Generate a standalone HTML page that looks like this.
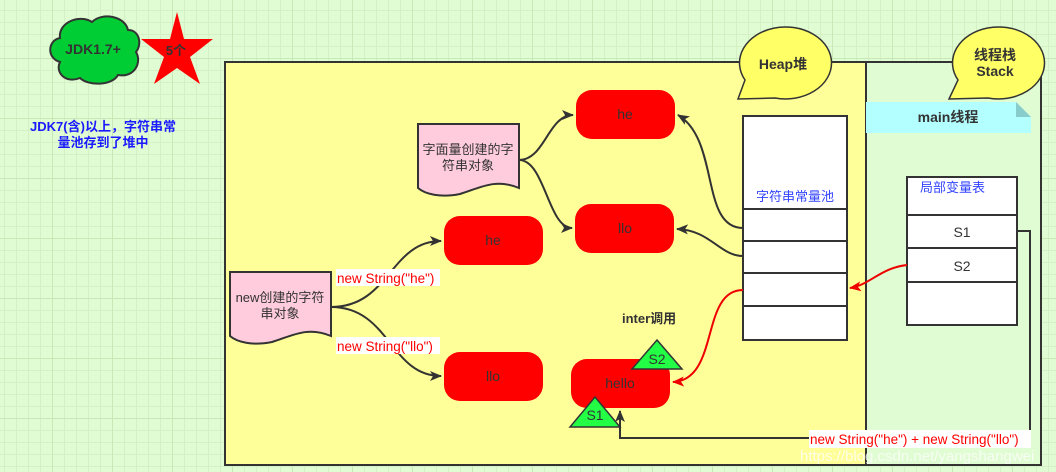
<!DOCTYPE html>
<html><head><meta charset="utf-8"><style>
html,body{margin:0;padding:0}
body{width:1056px;height:472px;overflow:hidden;background-color:#e0fcd2;
background-image:linear-gradient(#c8e8b8 1px,transparent 1px),linear-gradient(90deg,#c8e8b8 1px,transparent 1px),linear-gradient(#d4f0c4 1px,transparent 1px),linear-gradient(90deg,#d4f0c4 1px,transparent 1px);
background-size:60px 60px,60px 60px,12px 12px,12px 12px;background-position:-8px -2px;}
svg{position:absolute;left:0;top:0;font-family:"Liberation Sans","Noto Sans CJK SC",sans-serif}
</style></head><body>
<svg width="1056" height="472" viewBox="0 0 1056 472">
<defs>
<marker id="ak" markerWidth="12" markerHeight="10" refX="11" refY="5" orient="auto" markerUnits="userSpaceOnUse"><path d="M0,0 L12,5 L0,10 L3,5z" fill="#333"/></marker>
<marker id="ar" markerWidth="12" markerHeight="10" refX="11" refY="5" orient="auto" markerUnits="userSpaceOnUse"><path d="M0,0 L12,5 L0,10 L3,5z" fill="#e00"/></marker>
</defs>
<path d="M60,38 C58,22 80,14 92,22 C102,12 125,16 128,30 C140,30 142,45 136,52 C142,62 135,78 118,75 C112,86 88,86 80,78 C65,84 55,72 60,62 C46,58 48,40 60,38z" fill="#00cc33" stroke="#333" stroke-width="2"/>
<text x="93" y="54" font-size="14" font-weight="bold" fill="#333" text-anchor="middle">JDK1.7+</text>
<polygon points="177,12 184,39 213,39 190,57 200,84 177,68 154,84 164,57 141,39 170,39" fill="#f00"/>
<text x="176" y="55" font-size="13" font-weight="bold" fill="#333" text-anchor="middle">5个</text>
<text x="103" y="131" font-size="13" font-weight="bold" fill="#1a1aff" text-anchor="middle">JDK7(含)以上，字符串常</text>
<text x="103" y="147" font-size="13" font-weight="bold" fill="#1a1aff" text-anchor="middle">量池存到了堆中</text>
<rect x="225" y="62" width="641" height="403" fill="#ffff99" stroke="#333" stroke-width="2"/>
<rect x="866" y="62" width="175" height="403" fill="#e0fcd2" stroke="#333" stroke-width="2"/>
<path d="M745,80 A46,36 0 1 1 775,98 L738,99z" fill="#ffff66" stroke="#333" stroke-width="1.5"/>
<text x="783" y="69" font-size="14" font-weight="bold" fill="#333" text-anchor="middle">Heap堆</text>
<path d="M958,80 A46,36 0 1 1 988,98 L949,99z" fill="#ffff66" stroke="#333" stroke-width="1.5"/>
<text x="995" y="60" font-size="14" font-weight="bold" fill="#333" text-anchor="middle">线程栈</text>
<text x="995" y="76" font-size="14" font-weight="bold" fill="#333" text-anchor="middle">Stack</text>
<path d="M866,102 L1016,102 L1031,117 L1031,133 L866,133z" fill="#b3ffff"/>
<path d="M1016,102 L1031,117 L1016,117z" fill="#88cccc"/>
<text x="948" y="122" font-size="14" font-weight="bold" fill="#333" text-anchor="middle">main线程</text>
<rect x="743" y="116" width="104" height="224" fill="#fff" stroke="#333" stroke-width="2"/>
<path d="M743,209H847M743,241H847M743,273H847M743,306H847" stroke="#333" stroke-width="2"/>
<text x="795" y="201" font-size="13" fill="#3344ff" text-anchor="middle">字符串常量池</text>
<rect x="907" y="177" width="110" height="148" fill="#fff" stroke="#333" stroke-width="2"/>
<path d="M907,215H1017M907,248H1017M907,282H1017" stroke="#333" stroke-width="2"/>
<text x="920" y="192" font-size="13" fill="#3344ff">局部变量表</text>
<text x="962" y="237" font-size="14" fill="#333" text-anchor="middle">S1</text>
<text x="962" y="271" font-size="14" fill="#333" text-anchor="middle">S2</text>
<path d="M418,124 H519 V188 C495,178 480,188 460,194 C440,198 425,194 418,188z" fill="#ffccdd" stroke="#333" stroke-width="2"/>
<text x="468" y="154" font-size="13" fill="#333" text-anchor="middle">字面量创建的字</text>
<text x="468" y="170" font-size="13" fill="#333" text-anchor="middle">符串对象</text>
<path d="M230,272 H331 V336 C307,326 292,336 272,342 C252,346 237,342 230,336z" fill="#ffccdd" stroke="#333" stroke-width="2"/>
<text x="280" y="302" font-size="13" fill="#333" text-anchor="middle">new创建的字符</text>
<text x="280" y="318" font-size="13" fill="#333" text-anchor="middle">串对象</text>
<g fill="#f00">
<rect x="576" y="90" width="99" height="49" rx="16"/>
<rect x="575" y="204" width="99" height="49" rx="16"/>
<rect x="444" y="216" width="99" height="49" rx="16"/>
<rect x="444" y="352" width="99" height="49" rx="16"/>
<rect x="571" y="359" width="99" height="49" rx="16"/>
</g>
<g font-size="14" fill="#333" text-anchor="middle">
<text x="625" y="119">he</text>
<text x="625" y="233">llo</text>
<text x="493" y="245">he</text>
<text x="493" y="381">llo</text>
<text x="620" y="388">hello</text>
</g>
<g fill="none" stroke="#333" stroke-width="2">
<path d="M519,160 C545,160 548,115 573,115" marker-end="url(#ak)"/>
<path d="M519,160 C545,160 548,228 572,228" marker-end="url(#ak)"/>
<path d="M331,307 C390,307 390,241 441,241" marker-end="url(#ak)"/>
<path d="M331,307 C390,307 390,376 441,376" marker-end="url(#ak)"/>
<path d="M743,228 C700,228 720,140 678,115" marker-end="url(#ak)"/>
<path d="M743,256 C720,256 710,230 677,229" marker-end="url(#ak)"/>
<path d="M1017,231 H1030 V438 H620 V411" marker-end="url(#ak)"/>
</g>
<g fill="none" stroke="#e00" stroke-width="2">
<path d="M743,290 C700,290 720,380 673,382" marker-end="url(#ar)"/>
<path d="M907,265 C880,268 870,285 850,288" marker-end="url(#ar)"/>
</g>
<rect x="336" y="269" width="104" height="17" fill="#fff"/>
<text x="337" y="283" font-size="13.5" fill="#f00">new String("he")</text>
<rect x="336" y="337" width="104" height="17" fill="#fff"/>
<text x="337" y="351" font-size="13.5" fill="#f00">new String("llo")</text>
<rect x="809" y="430" width="222" height="18" fill="#fff"/>
<text x="810" y="444" font-size="13.5" fill="#f00">new String("he") + new String("llo")</text>
<text x="622" y="323" font-size="13" font-weight="bold" fill="#333">inter调用</text>
<polygon points="657,340 682,369 632,369" fill="#22ff44" stroke="#333" stroke-width="1.5"/>
<text x="657" y="364" font-size="14" fill="#333" text-anchor="middle">S2</text>
<polygon points="595,397 620,427 570,427" fill="#22ff44" stroke="#333" stroke-width="1.5"/>
<text x="595" y="420" font-size="14" fill="#333" text-anchor="middle">S1</text>
<text x="800" y="461" font-size="15" fill="#fff" fill-opacity="0.75">https://blog.csdn.net/yangshangwei</text>
</svg>
</body></html>
